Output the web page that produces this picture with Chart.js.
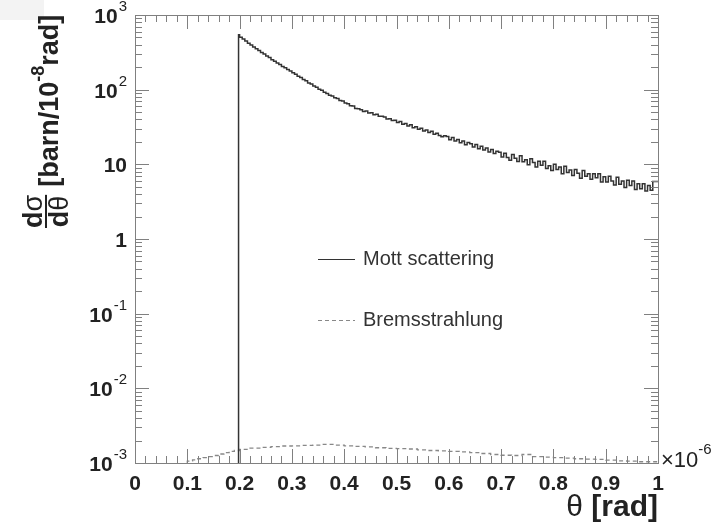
<!DOCTYPE html>
<html><head><meta charset="utf-8">
<script src="https://cdn.jsdelivr.net/npm/chart.js@4.4.0/dist/chart.umd.min.js"></script>
<style>html,body{margin:0;padding:0;background:#fff;}#wrap{width:712px;height:525px;}</style>
</head><body><div id="wrap"><canvas id="c" width="712" height="525"></canvas></div>
<script>
// ---- data ----
const xTickValues = [0,0.1,0.2,0.3,0.4,0.5,0.6,0.7,0.8,0.9,1];
const xTickLabels = ['0','0.1','0.2','0.3','0.4','0.5','0.6','0.7','0.8','0.9','1'];
const yTickValues = [0.001,0.01,0.1,1,10,100,1000];
const yTickBase = ['10','10','10','1','10','10','10'];
const yTickExp = ['-3','-2','-1','','','2','3'];
const yFloor = 0.001;

// Mott scattering histogram (x in 1e-6 rad): partial first bin, then bins of width 0.005 from 0.200
const mottBinStart = 0.198;
const mottStartValue = 42;
const mottFirstFullBin = 0.2;
const mottBinWidth = 0.005;
const mottValues = [
  545,505,476,447,420,395,374,352,335,315,300,282,269,252,241,228,218,205,197,186,
  178,168,161,151,146,137,132,123,119,112,108,101,98,92,89,84.5,82.5,78,76,71.5,
  70.5,66.2,65.0,61.0,60.3,56.1,55.4,53.9,51.0,51.6,48.6,49.0,46.1,46.9,44.0,43.9,43.1,40.6,40.9,38.5,
  38.9,36.3,37.5,34.5,35.2,32.6,33.9,31.0,31.9,29.6,30.4,27.9,28.8,26.6,27.8,25.2,26.0,24.3,23.5,24.1,
  23.6,21.4,22.8,20.5,21.5,19.4,20.6,18.3,19.6,18.9,17.1,18.4,16.2,17.4,15.5,16.6,14.6,15.8,14.0,15.0,
  14.5,12.5,14.1,12.3,11.3,13.5,12.1,10.9,13.0,10.8,11.5,9.9,11.9,10.6,9.2,11.0,9.7,11.0,8.8,9.6,
  8.3,10.0,8.5,9.2,7.5,9.4,7.8,8.4,7.1,8.5,7.6,6.5,8.3,6.9,7.5,6.3,7.5,6.6,7.5,5.8,
  6.8,5.8,6.9,6.0,5.3,6.7,5.4,6.0,4.9,6.1,5.2,6.0,4.6,5.5,4.7,5.5,4.4,5.2,4.5,5.9,
  5.9];

const bremsBinLow = [0.10,0.11,0.12,0.13,0.14,0.15,0.16,0.17,0.18,0.19,0.20,0.22,0.24,0.26,0.28,0.30,0.32,0.34,0.36,0.38,
  0.40,0.42,0.44,0.46,0.48,0.50,0.52,0.54,0.56,0.58,0.60,0.62,0.64,0.66,0.68,0.70,0.72,0.74,0.76,0.78,
  0.80,0.82,0.84,0.86,0.88,0.90,0.92,0.94,0.96,0.98,1.0];
const bremsValues = [1.02e-3,1.06e-3,1.10e-3,1.14e-3,1.18e-3,1.22e-3,1.26e-3,1.32e-3,1.38e-3,1.43e-3,1.47e-3,1.52e-3,1.58e-3,1.62e-3,1.66e-3,1.69e-3,1.70e-3,1.72e-3,1.74e-3,1.78e-3,
  1.74e-3,1.70e-3,1.67e-3,1.64e-3,1.60e-3,1.57e-3,1.56e-3,1.54e-3,1.50e-3,1.47e-3,1.45e-3,1.43e-3,1.41e-3,1.38e-3,1.34e-3,1.30e-3,1.27e-3,1.26e-3,1.30e-3,1.22e-3,
  1.20e-3,1.18e-3,1.16e-3,1.14e-3,1.13e-3,1.12e-3,1.09e-3,1.07e-3,1.06e-3,1.04e-3,1.04e-3];

const seriesLabels = ['Mott scattering','Bremsstrahlung'];

// ---- build points ----
const mottPts = [{x: mottBinStart, y: yFloor}, {x: mottBinStart, y: mottStartValue}]
  .concat(mottValues.map((v,i)=>({x: +(mottFirstFullBin + i*mottBinWidth).toFixed(4), y: v})));
const bremsPts = [{x: bremsBinLow[0], y: yFloor}].concat(bremsBinLow.map((x,i)=>({x, y: bremsValues[i]})));

const FONT = "'Liberation Sans', Arial, Helvetica, sans-serif";
const AXC = '#808080';

const decor = {
  id: 'decor',
  beforeDraw(chart) {
    const ctx = chart.ctx;
    ctx.save();
    ctx.fillStyle = '#f3f3f3';
    ctx.fillRect(0, 0, 44, 20);
    ctx.restore();
  },
  afterDraw(chart) {
    const ctx = chart.ctx, ca = chart.chartArea;
    const xs = chart.scales.x, ys = chart.scales.y;
    ctx.save();
    // frame
    ctx.strokeStyle = AXC; ctx.lineWidth = 1;
    ctx.strokeRect(Math.round(ca.left)+0.5, Math.round(ca.top)+0.5, Math.round(ca.right-ca.left), Math.round(ca.bottom-ca.top));
    // x ticks
    ctx.beginPath();
    for (let k = 0; k <= 50; k++) {
      const v = k/50;
      const px = Math.round(xs.getPixelForValue(v)) + 0.5;
      const len = (k % 5 === 0) ? 14 : 7;
      ctx.moveTo(px, ca.bottom); ctx.lineTo(px, ca.bottom - len);
      ctx.moveTo(px, ca.top); ctx.lineTo(px, ca.top + len);
    }
    // y ticks
    for (let e = -3; e <= 3; e++) {
      for (let m = 1; m <= 9; m++) {
        if (e === 3 && m > 1) break;
        const v = m * Math.pow(10, e);
        const py = Math.round(ys.getPixelForValue(v)) + 0.5;
        const len = (m === 1) ? 14 : 7;
        ctx.moveTo(ca.left, py); ctx.lineTo(ca.left + len, py);
        ctx.moveTo(ca.right, py); ctx.lineTo(ca.right - len, py);
      }
    }
    ctx.stroke();

    // x tick labels
    ctx.fillStyle = '#222';
    ctx.font = 'bold 21px ' + FONT;
    ctx.textAlign = 'center'; ctx.textBaseline = 'alphabetic';
    xTickValues.forEach((v,i) => {
      ctx.fillText(xTickLabels[i], xs.getPixelForValue(v), ca.bottom + 27);
    });
    // y tick labels
    yTickValues.forEach((v,i) => {
      const py = ys.getPixelForValue(v);
      const right = ca.left - 8;
      ctx.textBaseline = 'alphabetic';
      if (yTickExp[i]) {
        ctx.font = '15px ' + FONT;
        const ew = ctx.measureText(yTickExp[i]).width;
        ctx.textAlign = 'left';
        ctx.fillText(yTickExp[i], right - ew, py - 4);
        ctx.font = 'bold 21px ' + FONT;
        ctx.textAlign = 'right';
        ctx.fillText(yTickBase[i], right - ew - 1, py + 8);
      } else {
        ctx.font = 'bold 21px ' + FONT;
        ctx.textAlign = 'right';
        ctx.fillText(yTickBase[i], right, py + 8);
      }
    });
    // x multiplier
    ctx.textAlign = 'left';
    ctx.font = '22px ' + FONT;
    ctx.fillText('\u00d710', ca.right + 3, ca.bottom + 4);
    const mw = ctx.measureText('\u00d710').width;
    ctx.font = '15px ' + FONT;
    ctx.fillText('-6', ca.right + 3 + mw, ca.bottom - 9);

    // x title
    ctx.textAlign = 'right';
    ctx.font = 'bold 30px ' + FONT;
    const rw = ctx.measureText('[rad]').width;
    ctx.fillText('[rad]', ca.right, 516);
    ctx.font = '30px ' + FONT;
    ctx.fillText('\u03b8 ', ca.right - rw, 516);

    // y title (rotated)
    ctx.save();
    ctx.translate(68, 230);
    ctx.rotate(-Math.PI/2);
    ctx.textAlign = 'left'; ctx.textBaseline = 'alphabetic';
    ctx.font = 'bold 27px ' + FONT;
    const dW = ctx.measureText('d').width;
    ctx.font = '27px ' + FONT;
    const sW = ctx.measureText('\u03c3').width, tW = ctx.measureText('\u03b8').width;
    const numW = dW + sW, denW = dW + tW, fw = Math.max(numW, denW);
    const f0 = 2;
    ctx.font = 'bold 27px ' + FONT; ctx.fillText('d', f0 + (fw-numW)/2, -26);
    ctx.font = '27px ' + FONT; ctx.fillText('\u03c3', f0 + (fw-numW)/2 + dW, -26);
    ctx.font = 'bold 27px ' + FONT; ctx.fillText('d', f0 + (fw-denW)/2, 0);
    ctx.font = '27px ' + FONT; ctx.fillText('\u03b8', f0 + (fw-denW)/2 + dW, 0);
    ctx.fillRect(f0, -23, fw, 2);
    let u = f0 + fw + 8;
    ctx.font = 'bold 27px ' + FONT;
    ctx.fillText('[barn/10', u, -10); u += ctx.measureText('[barn/10').width;
    ctx.font = 'bold 18px ' + FONT;
    ctx.fillText('-8', u, -24); u += ctx.measureText('-8').width;
    ctx.font = 'bold 27px ' + FONT;
    ctx.fillText('rad]', u, -10);
    ctx.restore();

    // legend
    const ds = chart.data.datasets;
    const legY = [259, 320];
    ds.forEach((d, i) => {
      ctx.beginPath();
      ctx.strokeStyle = d.borderColor; ctx.lineWidth = 1;
      ctx.setLineDash(d.borderDash || []);
      ctx.moveTo(318, legY[i] + 0.5); ctx.lineTo(355, legY[i] + 0.5);
      ctx.stroke();
      ctx.setLineDash([]);
      ctx.fillStyle = '#333';
      ctx.font = '20px ' + FONT;
      ctx.textAlign = 'left'; ctx.textBaseline = 'middle';
      ctx.fillText(d.label, 363, legY[i]);
    });
    ctx.restore();
  }
};

new Chart(document.getElementById('c'), {
  type: 'line',
  data: {
    datasets: [
      { label: seriesLabels[0], data: mottPts, borderColor: '#333333', borderWidth: 1.5, stepped: 'after', pointRadius: 0, fill: false },
      { label: seriesLabels[1], data: bremsPts, borderColor: '#888888', borderWidth: 1.3, borderDash: [4,3], stepped: 'after', pointRadius: 0, fill: false }
    ]
  },
  options: {
    responsive: false, animation: false, devicePixelRatio: 1,
    layout: { padding: { left: 135, right: 54, top: 15, bottom: 62 } },
    plugins: { legend: { display: false }, tooltip: { enabled: false } },
    scales: {
      x: { type: 'linear', min: 0, max: 1, display: false },
      y: { type: 'logarithmic', min: 0.001, max: 1000, display: false }
    }
  },
  plugins: [decor]
});
</script></body></html>
